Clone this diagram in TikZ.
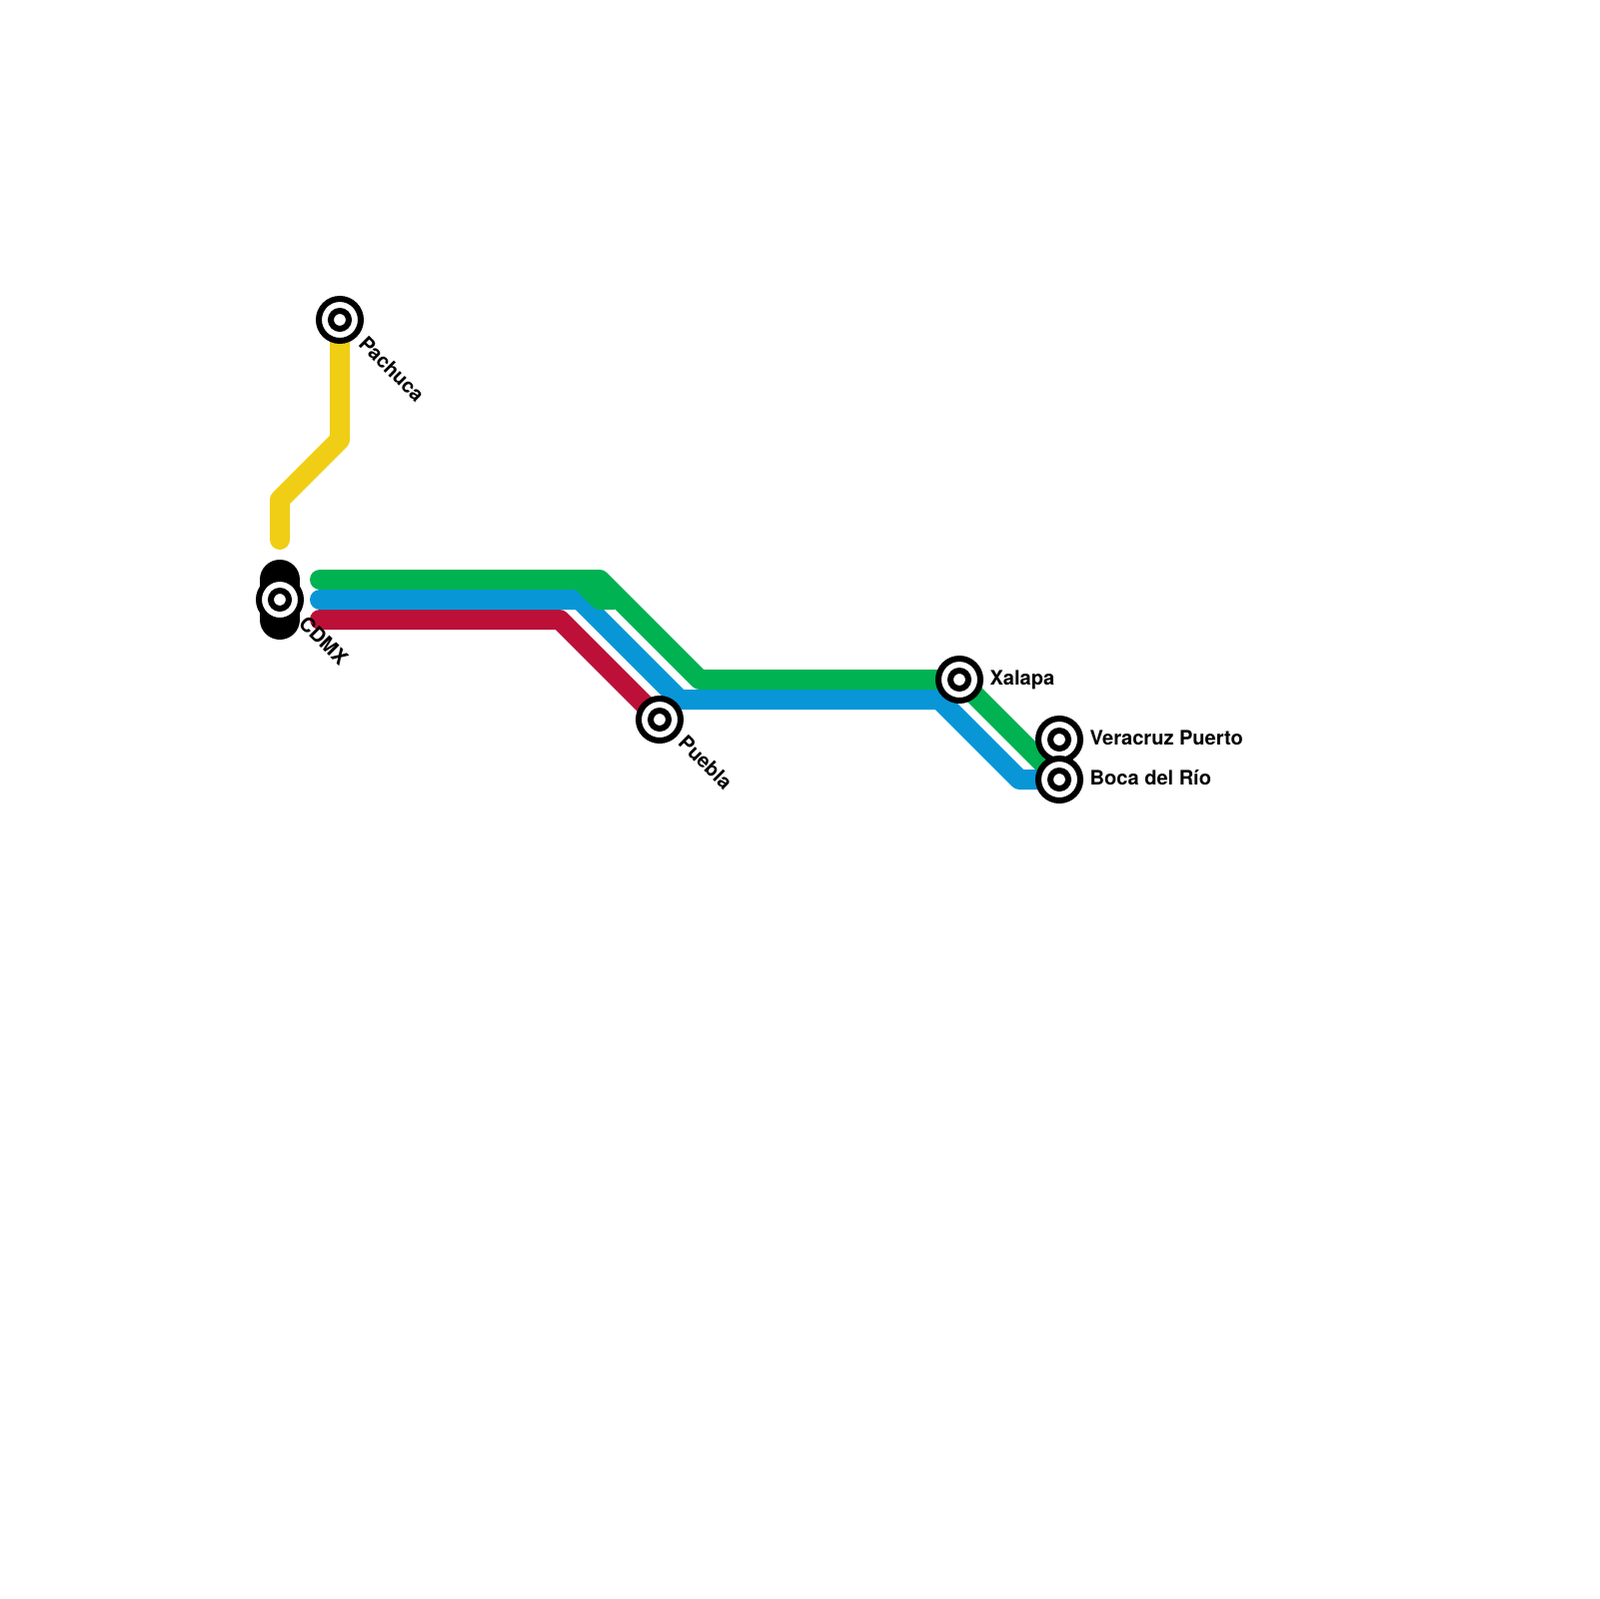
\documentclass[tikz,border=0pt]{standalone}
\usepackage{fontspec}
\setmainfont{TeX Gyre Heros}
\usepackage{xcolor}
\definecolor{lineyellow}{HTML}{F0CE15}
\definecolor{linegreen}{HTML}{00B251}
\definecolor{lineblue}{HTML}{0896D7}
\definecolor{linered}{HTML}{BC1038}
\tikzset{
  route/.style={line width=2mm, line cap=round, line join=round},
  station/.style={draw=black, fill=white, circle, line width=0.6mm, minimum size=4.2mm, inner sep=0pt},
  hole/.style={draw=black, fill=white, circle, line width=0.6mm, minimum size=1.8mm, inner sep=0pt},
  stlabel/.style={font=\fontsize{5.7pt}{6pt}\selectfont\bfseries, inner sep=0pt}
}

\begin{document}
\begin{tikzpicture}[x=0.1mm, y=-0.1mm]
    \useasboundingbox (0,0) rectangle (1600,1600);

    \coordinate (cpachuca) at (340,320);
    \coordinate (cdmx) at (280,600);
    \coordinate (cpuebla) at (660,720);
    \coordinate (cxalapa) at (960,680);
    \coordinate (cveracruz) at (1060,740);
    \coordinate (cboca) at (1060,780);

    \coordinate (yellowend) at (280,540);
    \coordinate (greenstart) at (320,580);
    \coordinate (bluestart) at (320,600);
    \coordinate (redstart) at (320,620);

    \draw[route, lineyellow] (cpachuca) -- (340,440) -- (280,500) -- (yellowend);
    \draw[route, linered] (redstart) -- (560,620) -- (cpuebla);
    \draw[route, linegreen] (greenstart) -- (600,580) -- (700,680) -- (cxalapa) -- (cboca);
    \draw[route, lineblue] (bluestart) -- (580,600) -- (680,700) -- (940,700) -- (1020,780) -- (cboca);
    % green spur sits on top of the blue
    \draw[linegreen, line width=2mm, line join=round] (580,580) -- (600,600) -- (615,600);

    % CDMX has the black bar behind it
    \draw[line width=4mm, line cap=round, black] (280,580) -- (280,620);

    \node[station] (pachuca) at (cpachuca) {};
    \node[hole] (hpachuca) at (cpachuca) {};
    \node[station] (mexico) at (cdmx) {};
    \node[hole] (hmexico) at (cdmx) {};
    \node[station] (puebla) at (cpuebla) {};
    \node[hole] (hpuebla) at (cpuebla) {};
    \node[station] (xalapa) at (cxalapa) {};
    \node[hole] (hxalapa) at (cxalapa) {};
    \node[station] (veracruz) at (cveracruz) {};
    \node[hole] (hveracruz) at (cveracruz) {};
    \node[station] (boca) at (cboca) {};
    \node[hole] (hboca) at (cboca) {};

    \node[stlabel, rotate=-45] (lpachuca) at (392,369) {Pachuca};
    \node[stlabel, rotate=-45] (lmexico) at (324,641) {CDMX};
    \node[stlabel, rotate=-45] (lpuebla) at (706,763) {Puebla};
    \node[stlabel, anchor=base west] (lxalapa) at (990,685) {Xalapa};
    \node[stlabel, anchor=base west] (lveracruz) at (1090,745) {Veracruz Puerto};
    \node[stlabel, anchor=base west] (lboca) at (1090,785) {Boca del Río};
\end{tikzpicture}
\end{document}
